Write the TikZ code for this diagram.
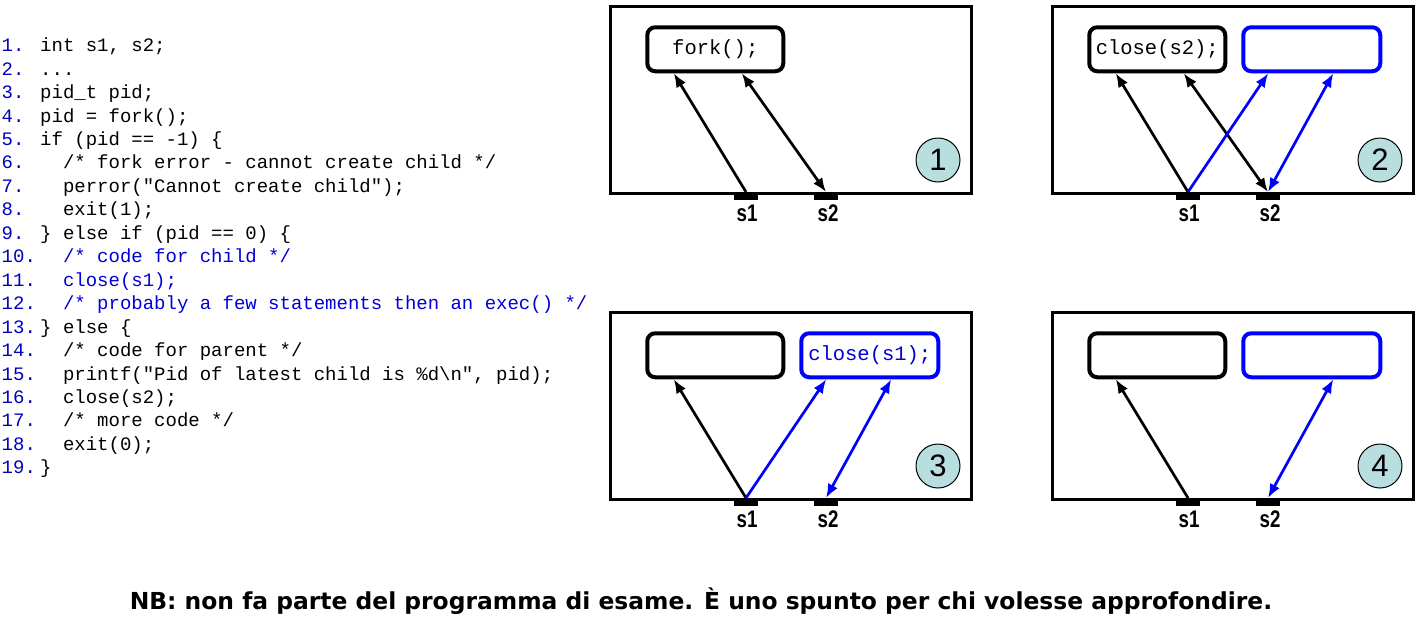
\documentclass[tikz,border=0pt]{standalone}
\usepackage{fontspec}
\setmainfont{Liberation Sans}
\newfontfamily\codefont{Liberation Mono}
\newfontfamily\nbfont{DejaVu Sans}
\usetikzlibrary{arrows.meta}
\definecolor{numblue}{RGB}{0,0,190}
\definecolor{codeblue}{RGB}{0,0,215}
\definecolor{boxblue}{RGB}{0,0,255}
\definecolor{circfill}{RGB}{185,222,224}
\begin{document}
\begin{tikzpicture}[x=1pt,y=-1pt,
 lnum/.style={anchor=base west, inner sep=0, font=\codefont\fontsize{19}{22}\selectfont, text=numblue},
 codeln/.style={anchor=base west, inner sep=0, font=\codefont\fontsize{19}{22}\selectfont},
 bluecode/.style={codeln, text=codeblue},
 panelframe/.style={draw, line width=3pt, minimum width=361pt, minimum height=187pt, inner sep=0},
 procbox/.style={draw, line width=4pt, rounded corners=8pt, minimum width=136pt, minimum height=44pt, inner sep=0, fill=white, font=\codefont\fontsize{20.5}{24}\selectfont},
 ubox/.style={procbox, draw=boxblue, minimum width=137pt},
 sockpad/.style={fill=black, minimum width=24pt, minimum height=8pt, inner sep=0, outer sep=0},
 slabel/.style={font=\bfseries\fontsize{24}{28}\selectfont, inner sep=0},
 numcirc/.style={circle, draw, line width=1pt, fill=circfill, minimum size=44pt, inner sep=0, font=\fontsize{31}{36}\selectfont},
 arr/.style={line width=2.7pt, -{Latex[length=14pt,width=11pt]}},
 darr/.style={line width=2.7pt, {Latex[length=14pt,width=11pt]}-{Latex[length=14pt,width=11pt]}},
]
\useasboundingbox (0,0) rectangle (1416,616);

% ---------- code ----------
\node[lnum] (n1) at (1.5,51.7) {1.};    \node[codeln] (c1) at (40,51.7) {int s1, s2;};
\node[lnum] (n2) at (1.5,75.15) {2.};   \node[codeln] (c2) at (40,75.15) {...};
\node[lnum] (n3) at (1.5,98.6) {3.};    \node[codeln] (c3) at (40,98.6) {pid\_t pid;};
\node[lnum] (n4) at (1.5,122.05) {4.};  \node[codeln] (c4) at (40,122.05) {pid = fork();};
\node[lnum] (n5) at (1.5,145.5) {5.};   \node[codeln] (c5) at (40,145.5) {if (pid == -1) \{};
\node[lnum] (n6) at (1.5,168.95) {6.};  \node[codeln] (c6) at (62.8,168.95) {/* fork error - cannot create child */};
\node[lnum] (n7) at (1.5,192.4) {7.};   \node[codeln] (c7) at (62.8,192.4) {perror("Cannot create child");};
\node[lnum] (n8) at (1.5,215.85) {8.};  \node[codeln] (c8) at (62.8,215.85) {exit(1);};
\node[lnum] (n9) at (1.5,239.3) {9.};   \node[codeln] (c9) at (40,239.3) {\} else if (pid == 0) \{};
\node[lnum] (n10) at (1.5,262.75) {10.}; \node[bluecode] (c10) at (62.8,262.75) {/* code for child */};
\node[lnum] (n11) at (1.5,286.2) {11.};  \node[bluecode] (c11) at (62.8,286.2) {close(s1);};
\node[lnum] (n12) at (1.5,309.65) {12.}; \node[bluecode] (c12) at (62.8,309.65) {/* probably a few statements then an exec() */};
\node[lnum] (n13) at (1.5,333.1) {13.};  \node[codeln] (c13) at (40,333.1) {\} else \{};
\node[lnum] (n14) at (1.5,356.55) {14.}; \node[codeln] (c14) at (62.8,356.55) {/* code for parent */};
\node[lnum] (n15) at (1.5,380.0) {15.};  \node[codeln] (c15) at (62.8,380.0) {printf("Pid of latest child is \%d\textbackslash n", pid);};
\node[lnum] (n16) at (1.5,403.45) {16.}; \node[codeln] (c16) at (62.8,403.45) {close(s2);};
\node[lnum] (n17) at (1.5,426.9) {17.};  \node[codeln] (c17) at (62.8,426.9) {/* more code */};
\node[lnum] (n18) at (1.5,450.35) {18.}; \node[codeln] (c18) at (62.8,450.35) {exit(0);};
\node[lnum] (n19) at (1.5,473.8) {19.};  \node[codeln] (c19) at (40,473.8) {\}};

% ---------- panel 1 ----------
\node[panelframe] (f1) at (791,100) {};
\node[procbox] (k1) at (715.25,49.25) {fork();};
\node[sockpad] (a1) at (746,196) {};
\node[sockpad] (b1) at (826,196) {};
\node[slabel] (la1) at (747,213) {\scalebox{0.78}[1]{s1}};
\node[slabel] (lb1) at (828,213) {\scalebox{0.78}[1]{s2}};
\node[numcirc] (o1) at (938,160) {1};
\draw[arr] (a1.north) -- ([xshift=28.5pt]k1.south west);
\draw[darr] ([xshift=96.5pt]k1.south west) -- (b1.north);

% ---------- panel 2 ----------
\begin{scope}[shift={(442,0)}]
\node[panelframe] (f2) at (791,100) {};
\node[procbox] (k2) at (715.25,49.25) {close(s2);};
\node[ubox] (u2) at (869.75,49.25) {};
\node[sockpad] (a2) at (746,196) {};
\node[sockpad] (b2) at (826,196) {};
\node[slabel] (la2) at (747,213) {\scalebox{0.78}[1]{s1}};
\node[slabel] (lb2) at (828,213) {\scalebox{0.78}[1]{s2}};
\node[numcirc] (o2) at (938,160) {2};
\draw[arr] (a2.north) -- ([xshift=28.5pt]k2.south west);
\draw[darr] ([xshift=96.5pt]k2.south west) -- (b2.north);
\draw[arr, boxblue] (a2.north) -- ([xshift=27pt]u2.south west);
\draw[darr, boxblue] ([xshift=92pt]u2.south west) -- (b2.north);
\end{scope}

% ---------- panel 3 ----------
\begin{scope}[shift={(0,306)}]
\node[panelframe] (f3) at (791,100) {};
\node[procbox] (k3) at (715.25,49.25) {};
\node[ubox, text=codeblue] (u3) at (869.75,49.25) {close(s1);};
\node[sockpad] (a3) at (746,196) {};
\node[sockpad] (b3) at (826,196) {};
\node[slabel] (la3) at (747,213) {\scalebox{0.78}[1]{s1}};
\node[slabel] (lb3) at (828,213) {\scalebox{0.78}[1]{s2}};
\node[numcirc] (o3) at (938,160) {3};
\draw[arr] (a3.north) -- ([xshift=28.5pt]k3.south west);
\draw[arr, boxblue] (a3.north) -- ([xshift=27pt]u3.south west);
\draw[darr, boxblue] ([xshift=92pt]u3.south west) -- (b3.north);
\end{scope}

% ---------- panel 4 ----------
\begin{scope}[shift={(442,306)}]
\node[panelframe] (f4) at (791,100) {};
\node[procbox] (k4) at (715.25,49.25) {};
\node[ubox] (u4) at (869.75,49.25) {};
\node[sockpad] (a4) at (746,196) {};
\node[sockpad] (b4) at (826,196) {};
\node[slabel] (la4) at (747,213) {\scalebox{0.78}[1]{s1}};
\node[slabel] (lb4) at (828,213) {\scalebox{0.78}[1]{s2}};
\node[numcirc] (o4) at (938,160) {4};
\draw[arr] (a4.north) -- ([xshift=28.5pt]k4.south west);
\draw[darr, boxblue] ([xshift=92pt]u4.south west) -- (b4.north);
\end{scope}

% ---------- note ----------
\node[anchor=base, inner sep=0, font=\nbfont\bfseries\fontsize{23.4}{27}\selectfont] (nb) at (701,609) {NB: non fa parte del programma di esame. È uno spunto per chi volesse approfondire.};
\end{tikzpicture}
\end{document}
